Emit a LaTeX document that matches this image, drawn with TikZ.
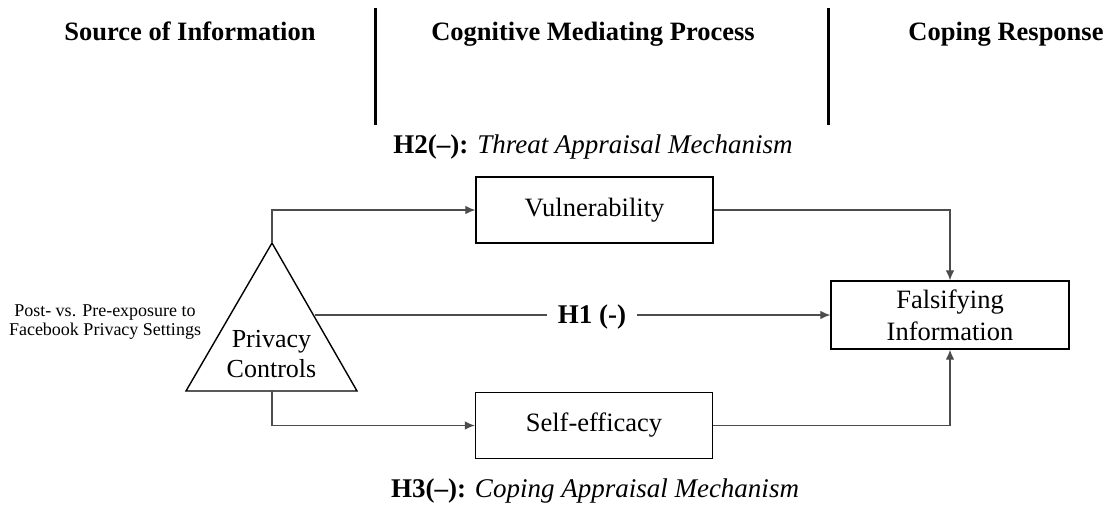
\documentclass[tikz,border=0pt]{standalone}
\usepackage{fontspec}
\setmainfont{Liberation Serif}
\usetikzlibrary{arrows.meta}
\tikzset{
  box/.style={draw=black, line width=1.4pt, minimum width=237pt, minimum height=66pt, inner sep=0pt, font=\fontsize{26.5}{32}\selectfont, align=center},
  header/.style={font=\bfseries\fontsize{26.5}{30}\selectfont, anchor=base},
  conn/.style={draw=black!70, line width=1.1pt, -{Latex[length=10pt,width=8.5pt]}},
  divider/.style={line width=3pt, black},
  hyp/.style={font=\fontsize{27}{30}\selectfont, anchor=base}
}
\begin{document}
\begin{tikzpicture}[x=1pt,y=-1pt]
\useasboundingbox (0,0) rectangle (1108,507);
% headers
\node[header] (h1) at (190,40) {Source of Information};
\node[header] (h2) at (593,40) {Cognitive Mediating Process};
\node[header] (h3) at (1006,40) {Coping Response};
\draw[divider] (375,8) -- (375,125);
\draw[divider] (828,8) -- (828,125);
% hypothesis labels
\node[hyp] (H2) at (593,153) {\textbf{H2(–):} \textit{Threat Appraisal Mechanism}};
\node[hyp] (H3) at (595,497) {\textbf{H3(–):} \textit{Coping Appraisal Mechanism}};
% boxes
\node[box] (vul) at (594.5,210) {Vulnerability};
\node[box] (self) at (594,425.5) {Self-efficacy};
\node[box, minimum width=238pt, minimum height=68pt, text depth=0pt] (fal) at (950,315) {Falsifying\\Information};
% triangle
\coordinate (apex) at (272,243);
\coordinate (bl) at (186,391);
\coordinate (br) at (357,391);
\coordinate (basemid) at (272,391);
\coordinate (tright) at (314.7,315);
\draw[line width=1.4pt, line join=miter] (apex) -- (bl) -- (br) -- cycle;
\node[font=\fontsize{26}{30}\selectfont, align=center] (pc) at (271.5,354) {Privacy\\Controls};
\node[font=\fontsize{18}{19.5}\selectfont, align=center] (src) at (105,322) {Post- vs. Pre-exposure to\\Facebook Privacy Settings};
% connectors
\draw[conn] (apex) |- (vul.west);
\draw[conn] (vul.east) -| (fal.north);
\draw[conn] (basemid) |- (self.west);
\draw[conn] (self.east) -| (fal.south);
\draw[conn] (tright) -- (fal.west);
\node[fill=white, inner xsep=11pt, inner ysep=2pt, font=\bfseries\fontsize{27}{30}\selectfont] (h1lab) at (592,317) {H1 (-)};
\end{tikzpicture}
\end{document}
